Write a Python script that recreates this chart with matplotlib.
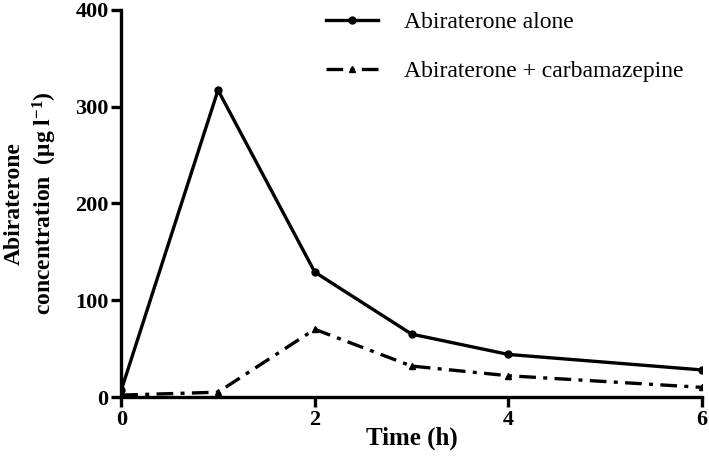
import matplotlib
matplotlib.use("Agg")
import matplotlib.pyplot as plt

# Time points (h)
time_h = [0, 1, 2, 3, 4, 6]
# Abiraterone concentration (ug/l)
alone = [7, 317, 129, 65, 44, 28]
with_cbz = [2, 5, 70, 32, 22, 10]

x_ticks = [0, 2, 4, 6]
y_ticks = [0, 100, 200, 300, 400]

plt.rcParams["font.family"] = ["Liberation Serif", "DejaVu Serif"]
plt.rcParams["mathtext.fontset"] = "custom"
plt.rcParams["mathtext.rm"] = "Liberation Serif"
plt.rcParams["mathtext.bf"] = "Liberation Serif:bold"

fig = plt.figure(figsize=(7.09, 4.66), dpi=100)
ax = fig.add_axes([0.171, 0.148, 0.819, 0.831])

ax.plot(time_h, alone, color="black", linewidth=2.4, marker="o",
        markersize=5, label="Abiraterone alone")
ax.plot(time_h, with_cbz, color="black", linewidth=2.4,
        linestyle=(0, (5, 2.2, 1.2, 2.2)), marker="^", markersize=5,
        label="Abiraterone + carbamazepine")

ax.set_xlim(0, 6)
ax.set_ylim(0, 400)
ax.set_xticks(x_ticks)
ax.set_yticks(y_ticks)

for side in ["top", "right"]:
    ax.spines[side].set_visible(False)
for side in ["left", "bottom"]:
    ax.spines[side].set_linewidth(2.4)

ax.tick_params(direction="out", length=7, width=2.4, labelsize=16, pad=2)
for lbl in ax.get_xticklabels() + ax.get_yticklabels():
    lbl.set_fontweight("bold")

ax.set_xlabel("Time (h)", fontsize=18, fontweight="bold", labelpad=-2)
ax.set_ylabel("Abiraterone\nconcentration  (μg l$\\mathbf{^{-1}}$)",
              fontsize=17, fontweight="bold", labelpad=12,
              linespacing=1.3)

ax.legend(loc="upper right", bbox_to_anchor=(1.005, 1.05), frameon=False,
          fontsize=17, handlelength=2.2, handletextpad=1.1,
          labelspacing=1.15)

for spine in ax.spines.values():
    spine.set_clip_on(False)

fig.savefig("out.png", dpi=100)
